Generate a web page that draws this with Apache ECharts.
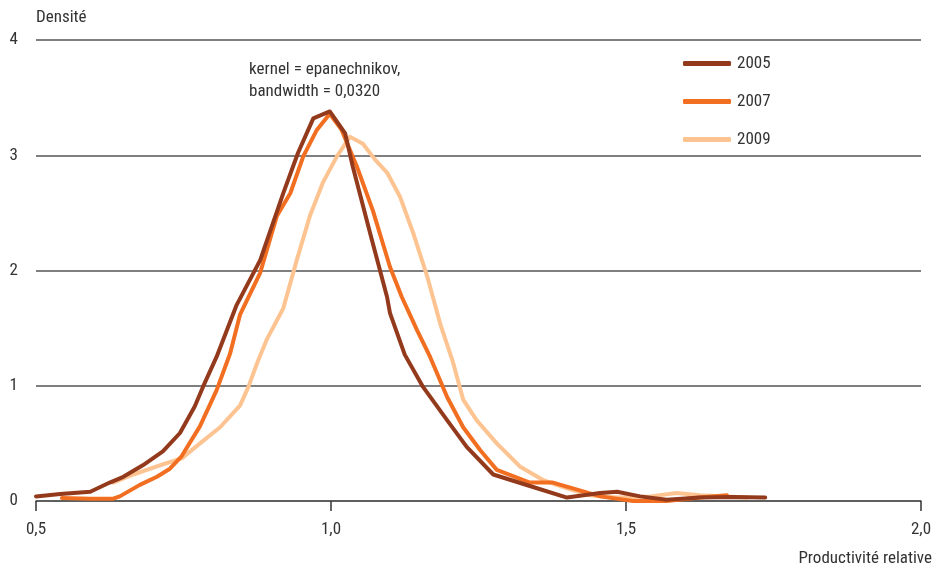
<!DOCTYPE html>
<html><head><meta charset="utf-8">
<script src="https://cdn.jsdelivr.net/npm/echarts@6/dist/echarts.min.js"></script>
<style>html,body{margin:0;padding:0;background:#fff}#c{width:935px;height:565px}</style>
</head><body><div id="c"></div>
<script>
const xTicks = [0.5, 1.0, 1.5, 2.0];
const yTicks = [0, 1, 2, 3, 4];
const seriesNames = ['2005', '2007', '2009'];
const x2005 = [0.500,0.541,0.592,0.625,0.648,0.681,0.715,0.744,0.769,0.783,0.806,0.840,0.880,0.919,0.944,0.970,0.998,1.024,1.037,1.066,1.095,1.100,1.125,1.156,1.197,1.230,1.275,1.337,1.400,1.456,1.485,1.524,1.569,1.625,1.681,1.736];
const y2005 = [0.04,0.06,0.08,0.16,0.21,0.31,0.43,0.59,0.82,0.99,1.25,1.70,2.09,2.67,3.02,3.32,3.38,3.19,2.90,2.33,1.77,1.63,1.27,0.99,0.70,0.47,0.23,0.13,0.03,0.07,0.08,0.04,0.01,0.03,0.035,0.03];
const x2007 = [0.544,0.592,0.631,0.642,0.676,0.705,0.727,0.747,0.778,0.806,0.829,0.846,0.880,0.908,0.931,0.953,0.976,0.998,1.018,1.044,1.071,1.100,1.120,1.146,1.168,1.197,1.224,1.253,1.281,1.337,1.376,1.410,1.456,1.512,1.569,1.625,1.671];
const y2007 = [0.025,0.02,0.02,0.04,0.14,0.21,0.28,0.39,0.65,0.96,1.28,1.62,1.98,2.47,2.67,2.99,3.22,3.36,3.22,2.90,2.52,2.03,1.77,1.48,1.25,0.90,0.64,0.44,0.27,0.16,0.16,0.11,0.04,0.00,0.00,0.03,0.05];
const x2009 = [0.631,0.665,0.710,0.747,0.778,0.812,0.846,0.860,0.875,0.891,0.919,0.942,0.964,0.986,1.010,1.032,1.054,1.075,1.095,1.117,1.139,1.163,1.185,1.207,1.224,1.247,1.281,1.320,1.360,1.400,1.439,1.485,1.541,1.586,1.625,1.671,1.705];
const y2009 = [0.16,0.23,0.31,0.37,0.50,0.64,0.83,0.99,1.20,1.40,1.67,2.09,2.47,2.76,2.99,3.16,3.10,2.96,2.85,2.64,2.33,1.95,1.54,1.20,0.88,0.70,0.50,0.30,0.18,0.11,0.05,0.03,0.04,0.07,0.05,0.04,0.03];
const colors = ['#943a1c', '#f26f21', '#fdc492'];
const annotation = ['kernel = epanechnikov,', 'bandwidth = 0,0320'];
const yAxisTitle = 'Densité';
const xAxisTitle = 'Productivité relative';

const FONT = "'Liberation Sans Narrow','Roboto Condensed','DejaVu Sans Condensed',sans-serif";
const FS = 17;
const TXT = '#333';
const pairs = (xs, ys) => xs.map((x, i) => [x, ys[i]]);
const allData = [pairs(x2005, y2005), pairs(x2007, y2007), pairs(x2009, y2009)];

const chart = echarts.init(document.getElementById('c'));
chart.setOption({
  animation: false,
  textStyle: { fontFamily: FONT },
  grid: { left: 36, right: 14, top: 40, bottom: 64, containLabel: false },
  legend: {
    orient: 'vertical', left: 678, top: 50,
    itemWidth: 48, itemHeight: 5, itemGap: 21, icon: 'roundRect',
    textStyle: { fontFamily: FONT, fontSize: FS, color: TXT, padding: [0, 0, 0, 1] },
    data: seriesNames
  },
  xAxis: {
    type: 'value', min: xTicks[0], max: xTicks[xTicks.length - 1], interval: 0.5,
    axisLine: { show: true, lineStyle: { color: '#555', width: 1.5 } },
    axisTick: { show: true, length: 10, lineStyle: { color: '#333', width: 1.5 } },
    splitLine: { show: false },
    axisLabel: { fontFamily: FONT, fontSize: FS, color: TXT, margin: 20,
      formatter: v => v.toFixed(1).replace('.', ','),
      alignMinLabel: 'center', alignMaxLabel: 'center' }
  },
  yAxis: {
    type: 'value', min: yTicks[0], max: yTicks[yTicks.length - 1], interval: 1,
    axisLine: { show: false }, axisTick: { show: false },
    splitLine: { show: true, lineStyle: { color: '#555', width: 1.5 } },
    axisLabel: { fontFamily: FONT, fontSize: FS, color: TXT, margin: 18, formatter: v => String(v) },
    name: yAxisTitle, nameLocation: 'end', nameGap: 14,
    nameTextStyle: { fontFamily: FONT, fontSize: FS, color: TXT, align: 'left', padding: [0, 0, 0, 0] }
  },
  graphic: [{
    type: 'text', left: 249, top: 59,
    style: { text: annotation.join('\n'), font: FS + "px " + FONT, fill: TXT, lineHeight: 22 }
  }, {
    type: 'text', right: 3, top: 550,
    style: { text: xAxisTitle, font: FS + "px " + FONT, fill: TXT }
  }],
  series: seriesNames.map((n, i) => ({
    name: n, type: 'line', data: allData[i], showSymbol: false, symbol: 'none',
    color: colors[i], lineStyle: { width: 4, color: colors[i], cap: 'round', join: 'round' },
    z: 3 - i
  }))
});
</script></body></html>
